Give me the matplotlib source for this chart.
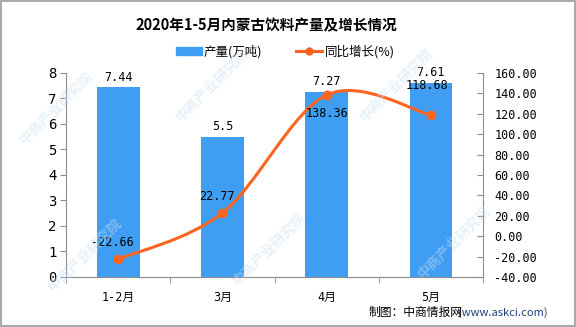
import numpy as np
import matplotlib
matplotlib.use('Agg')
import matplotlib.pyplot as plt
from matplotlib.path import Path
from matplotlib.patches import PathPatch, Rectangle

plt.rcParams['font.family'] = ['DejaVu Sans', 'Noto Sans CJK SC']

months = ['1-2月', '3月', '4月', '5月']
output = [7.44, 5.5, 7.27, 7.61]
growth = [-22.66, 22.77, 138.36, 118.68]
left_ticks = [0, 1, 2, 3, 4, 5, 6, 7, 8]
right_ticks = [-40, -20, 0, 20, 40, 60, 80, 100, 120, 140, 160]

bar_color = '#3f9ef2'
line_color = '#fd6420'
axis_grey = '#8c8c8c'
num_font = ['DejaVu Sans Mono', 'Noto Sans CJK SC']

fig = plt.figure(figsize=(5.76, 3.27), dpi=100)

ax = fig.add_axes([0.1146, 0.153, 0.724, 0.624])
ax.patch.set_alpha(0)
x = np.arange(len(months))
ax.bar(x, output, width=0.41, color=bar_color, zorder=2)
ax.set_xlim(-0.5, 3.5)
ax.set_ylim(0, 8)
ax.set_yticks(left_ticks)
ax.set_yticklabels([str(t) for t in left_ticks], family=num_font, fontsize=10)
ax.set_xticks(x)
ax.set_xticklabels(months, family=num_font, fontsize=8.5)
ax.tick_params(axis='x', length=0, pad=10)
ax.set_xticks([-0.5, 0.5, 1.5, 2.5, 3.5], minor=True)
ax.tick_params(axis='x', which='minor', length=4, color=axis_grey)
ax.tick_params(axis='y', length=4, color=axis_grey, pad=3)
for s in ['top', 'right']:
    ax.spines[s].set_visible(False)
for s in ['left', 'bottom']:
    ax.spines[s].set_color(axis_grey)

for xi, v in zip(x, output):
    ax.text(xi, v + 0.14, f'{v:g}', ha='center', va='bottom', family=num_font, fontsize=8.5, zorder=5)

ax2 = ax.twinx()
ax2.set_ylim(-40, 160)
ax2.set_yticks(right_ticks)
ax2.set_yticklabels([f'{t:.2f}' for t in right_ticks], family=num_font, fontsize=8.5)
ax2.tick_params(axis='y', direction='in', length=4, color=axis_grey, pad=8)
for s in ['top', 'left', 'bottom']:
    ax2.spines[s].set_visible(False)
ax2.spines['right'].set_color(axis_grey)

# smoothed growth line (Catmull-Rom segments as cubic Bezier)
pts = np.column_stack([x, growth]).astype(float)
ext = np.vstack([pts[0], pts, pts[-1]])
verts = [tuple(pts[0])]
codes = [Path.MOVETO]
for i in range(len(pts) - 1):
    p0, p1, p2, p3 = ext[i], ext[i + 1], ext[i + 2], ext[i + 3]
    c1 = p1 + (p2 - p0) / 6
    c2 = p2 - (p3 - p1) / 6
    verts += [tuple(c1), tuple(c2), tuple(p2)]
    codes += [Path.CURVE4] * 3
ax2.add_patch(PathPatch(Path(verts, codes), fill=False, edgecolor=line_color, lw=2.2,
                        capstyle='round', zorder=3))
ax2.plot(x, growth, 'o', color=line_color, markersize=6, zorder=4)

label_off = [(-4, 12), (-4, 12), (0, -13), (-3, 21)]
for xi, v, (dx, dy) in zip(x, growth, label_off):
    ax2.annotate(f'{v:.2f}', (xi, v), xytext=(dx, dy), textcoords='offset points',
                 ha='center', va='center', family=num_font, fontsize=8.5, zorder=5)

# faint watermark tiles over the plot
for wx, wy in [(0.03, 0.55), (0.30, 0.62), (0.62, 0.62),
               (0.08, 0.10), (0.40, 0.12), (0.72, 0.14)]:
    fig.text(wx, wy, '中商产业研究院', rotation=45, fontsize=10, color='#c9def2', alpha=0.45,
             family='Noto Sans CJK SC', weight='bold', ha='left', va='bottom', zorder=6)

fig.text(0.462, 0.924, '2020年1-5月内蒙古饮料产量及增长情况', ha='center', va='center',
         family='Noto Sans CJK SC', weight='bold', fontsize=10.5)

# legend drawn by hand to sit under the title
fig.patches.append(Rectangle((0.306, 0.833), 0.044, 0.022, transform=fig.transFigure,
                             color=bar_color))
fig.text(0.354, 0.843, '产量(万吨)', ha='left', va='center', family='Noto Sans CJK SC', fontsize=9)
fig.lines.append(plt.Line2D([0.514, 0.559], [0.843, 0.843], transform=fig.transFigure,
                            color=line_color, lw=2.2))
fig.lines.append(plt.Line2D([0.5365], [0.843], transform=fig.transFigure, marker='o',
                            markersize=5, color=line_color))
fig.text(0.564, 0.843, '同比增长(%)', ha='left', va='center', family='Noto Sans CJK SC', fontsize=9)

fig.text(0.950, 0.043, '(www.askci.com)', ha='right', va='center', family='Noto Sans CJK SC',
         fontsize=8, color='#1f3f7a')
fig.text(0.803, 0.043, '制图：中商情报网', ha='right', va='center', family='Noto Sans CJK SC',
         fontsize=8.5, color='black')

fig.patches.append(Rectangle((0.001, 0.002), 0.997, 0.995, transform=fig.transFigure,
                             fill=False, edgecolor='#9a9a9a', lw=1.2))

fig.savefig('out.png', dpi=100)
